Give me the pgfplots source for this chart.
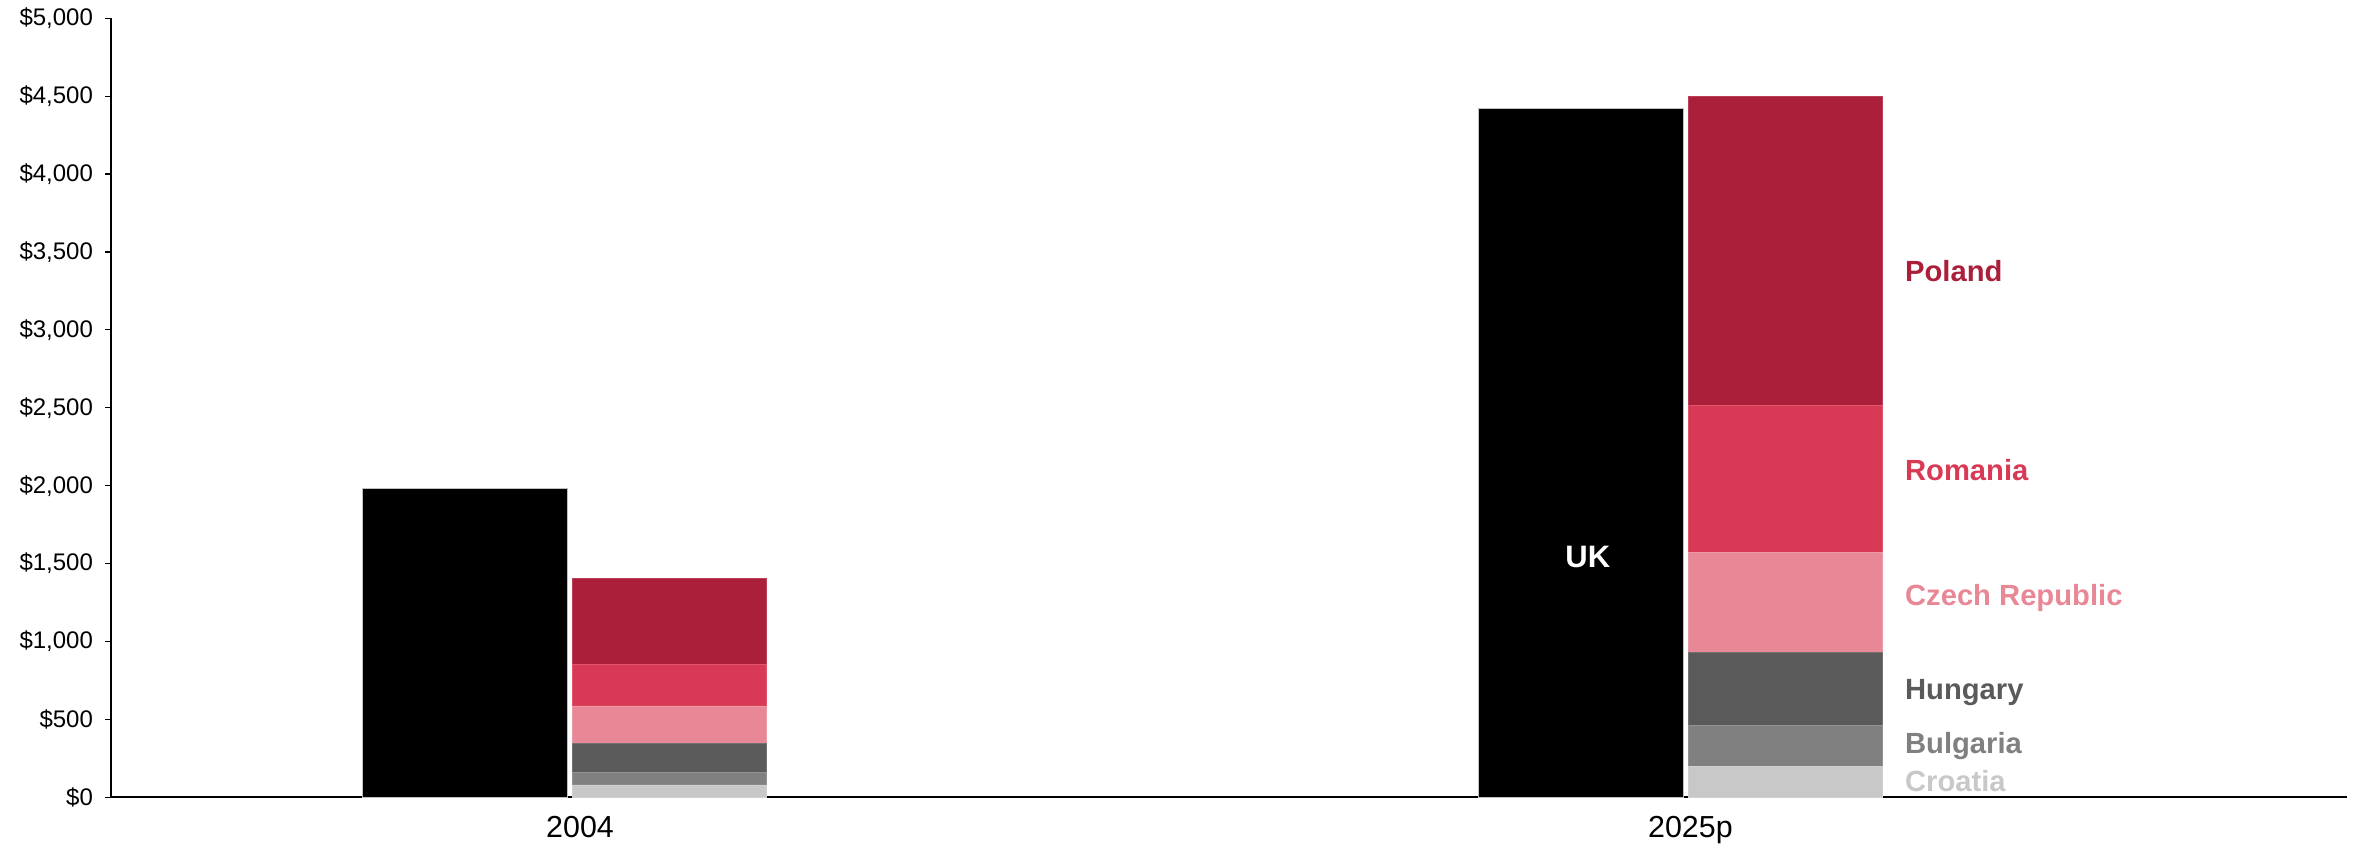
\documentclass[border=0pt]{standalone}
\usepackage{fontspec}
\setmainfont{Liberation Sans}
\usepackage{pgfplots}
\pgfplotsset{compat=1.18}
\definecolor{cPol}{RGB}{172,31,58}
\definecolor{cRom}{RGB}{216,57,85}
\definecolor{cCze}{RGB}{232,135,149}
\definecolor{cHun}{RGB}{90,90,90}
\definecolor{cBul}{RGB}{128,128,128}
\definecolor{cCro}{RGB}{200,200,200}
\begin{document}
\begin{tikzpicture}
\useasboundingbox (-55.5pt,-23.85pt) rectangle (1133pt,398.65pt);
\pgfplotsset{common/.style={
  at={(0,0)}, anchor=south west, scale only axis,
  width=1118pt, height=389.5pt,
  xmin=-0.4113, xmax=1.5923, ymin=0, ymax=5000,
}}
\begin{axis}[common,
  ybar, bar shift=0pt, bar width=0.1837,
  axis x line=bottom, axis y line=left,
  axis line style={-, line width=0.8pt, black},
  ytick={0,500,...,5000},
  tick align=outside,
  major tick length=3pt,
  ytick style={line width=0.6pt, black},
  yticklabel={\$\pgfmathprintnumber{\tick}},
  yticklabel style={/pgf/number format/fixed, /pgf/number format/precision=0,
    /pgf/number format/1000 sep={,}, /pgf/number format/assume math mode=true,
    font=\fontsize{12}{14}\selectfont, xshift=-2.5pt},
  xtick={0.009,1.004}, xticklabels={2004,2025p},
  xtick style={draw=none},
  xticklabel style={font=\fontsize{15.2}{17}\selectfont, yshift=-3pt},
]
\addplot[fill=black, draw=gray!50, line width=0.6pt] coordinates {(-0.094,1982) (0.906,4419)};
\node[text=white, font=\bfseries\fontsize{15.5}{17}\selectfont] at (axis cs:0.912,1545) {UK};
\end{axis}
\begin{axis}[common, hide axis,
  ybar stacked, bar shift=0pt, bar width=0.174,
]
\addplot[fill=cCro, draw=cCro!85!white, line width=0.3pt] coordinates {(0.089,79) (1.089,200)};
\addplot[fill=cBul, draw=cBul!85!white, line width=0.3pt] coordinates {(0.089,83) (1.089,264)};
\addplot[fill=cHun, draw=cHun!85!white, line width=0.3pt] coordinates {(0.089,186) (1.089,465)};
\addplot[fill=cCze, draw=cCze!85!white, line width=0.3pt] coordinates {(0.089,238) (1.089,642)};
\addplot[fill=cRom, draw=cRom!85!white, line width=0.3pt] coordinates {(0.089,267) (1.089,943)};
\addplot[fill=cPol, draw=cPol!85!white, line width=0.3pt] coordinates {(0.089,552) (1.089,1986)};
\node[anchor=west, text=cPol, font=\bfseries\fontsize{14.6}{17}\selectfont] at (axis cs:1.190,3377) {Poland};
\node[anchor=west, text=cRom, font=\bfseries\fontsize{14.6}{17}\selectfont] at (axis cs:1.190,2100) {Romania};
\node[anchor=west, text=cCze, font=\bfseries\fontsize{14.6}{17}\selectfont] at (axis cs:1.190,1282) {Czech Republic};
\node[anchor=west, text=cHun, font=\bfseries\fontsize{14.6}{17}\selectfont] at (axis cs:1.190,672) {Hungary};
\node[anchor=west, text=cBul, font=\bfseries\fontsize{14.6}{17}\selectfont] at (axis cs:1.190,329) {Bulgaria};
\node[anchor=west, text=cCro, font=\bfseries\fontsize{14.6}{17}\selectfont] at (axis cs:1.190,105) {Croatia};
\end{axis}
\end{tikzpicture}
\end{document}
